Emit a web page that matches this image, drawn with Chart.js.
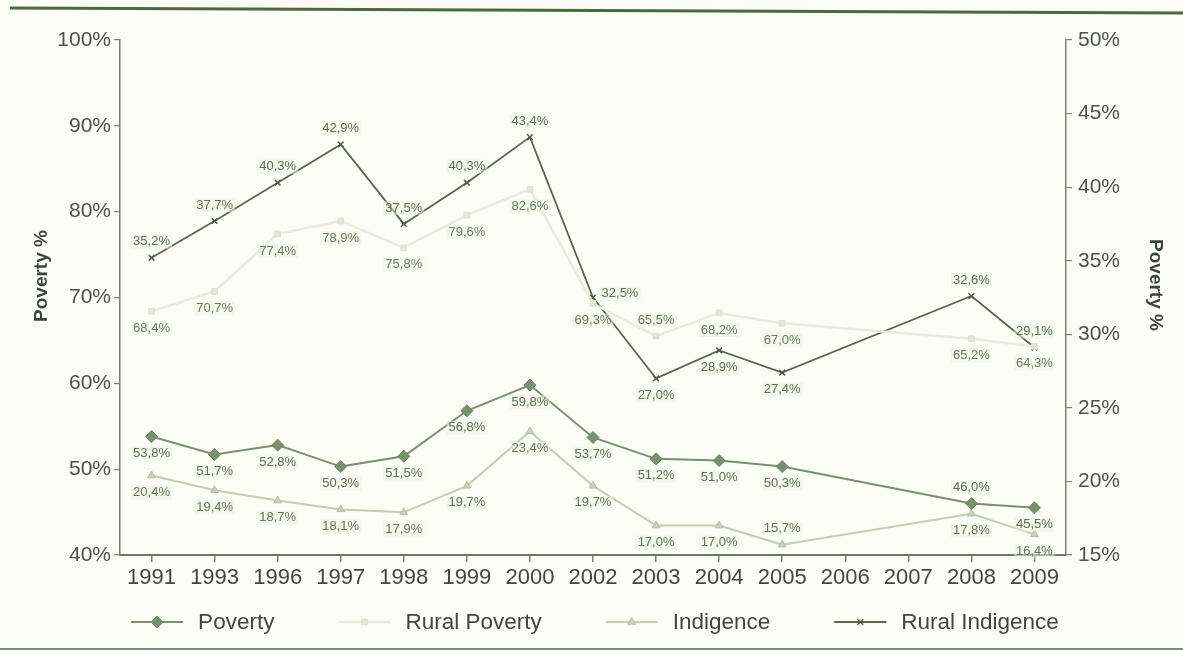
<!DOCTYPE html>
<html>
<head>
<meta charset="utf-8">
<script src="https://cdn.jsdelivr.net/npm/chart.js@4.4.0/dist/chart.umd.min.js"></script>
<style>
  html, body { margin: 0; padding: 0; background: #fcfdf5; }
  #wrap { width: 1183px; height: 651px; }
</style>
</head>
<body>
<div id="wrap"><canvas id="chart" width="1183" height="651"></canvas></div>
<script>
// --- data ---
const years = ['1991', '1993', '1996', '1997', '1998', '1999', '2000', '2002', '2003', '2004', '2005', '2006', '2007', '2008', '2009'];
const poverty         = [53.8, 51.7, 52.8, 50.3, 51.5, 56.8, 59.8, 53.7, 51.2, 51.0, 50.3, null, null, 46.0, 45.5];
const ruralPoverty    = [68.4, 70.7, 77.4, 78.9, 75.8, 79.6, 82.6, 69.3, 65.5, 68.2, 67.0, null, null, 65.2, 64.3];
const indigence       = [20.4, 19.4, 18.7, 18.1, 17.9, 19.7, 23.4, 19.7, 17.0, 17.0, 15.7, null, null, 17.8, 16.4];
const ruralIndigence  = [35.2, 37.7, 40.3, 42.9, 37.5, 40.3, 43.4, 32.5, 27.0, 28.9, 27.4, null, null, 32.6, 29.1];
const leftTicks  = [40, 50, 60, 70, 80, 90, 100];
const rightTicks = [15, 20, 25, 30, 35, 40, 45, 50];

const FONT = '"Liberation Sans", Arial, Helvetica, sans-serif';
const fmt = v => v.toFixed(1).replace('.', ',') + '%';

// value labels next to each point
const pointLabels = {
  id: 'pointLabels',
  afterDatasetsDraw(chart) {
    const ctx = chart.ctx;
    ctx.save();
    ctx.font = '13px ' + FONT;
    ctx.textAlign = 'center';
    ctx.textBaseline = 'middle';
    chart.data.datasets.forEach((ds, di) => {
      const meta = chart.getDatasetMeta(di);
      meta.data.forEach((pt, i) => {
        const v = ds.data[i];
        if (v == null) return;
        const pos = ds.labelPos[i];
        let x = pt.x, y = pt.y;
        if (pos === 'below') y += 17;
        else if (pos === 'above') y -= 16;
        else if (pos === 'right') { x += 27; y -= 4; }
        const txt = fmt(v);
        const w = ctx.measureText(txt).width;
        ctx.fillStyle = 'rgba(236,242,225,0.5)';
        ctx.fillRect(x - w / 2 - 2, y - 7, w + 4, 14);
        ctx.fillStyle = ds.labelColor;
        ctx.fillText(txt, x, y);
      });
    });
    ctx.restore();
  }
};

// page frame, axis titles and legend
const decor = {
  id: 'decor',
  beforeDraw(chart) {
    const ctx = chart.ctx;
    ctx.save();
    ctx.fillStyle = '#fcfdf5';
    ctx.fillRect(0, 0, chart.width, chart.height);
    ctx.strokeStyle = '#4b6a43';
    ctx.lineWidth = 3;
    ctx.beginPath(); ctx.moveTo(10, 8); ctx.lineTo(1183, 13); ctx.stroke();
    ctx.strokeStyle = '#7d8f75';
    ctx.lineWidth = 2;
    ctx.beginPath(); ctx.moveTo(0, 649); ctx.lineTo(1183, 649); ctx.stroke();
    ctx.restore();
  },
  afterDraw(chart) {
    const ctx = chart.ctx;
    ctx.save();
    // axis titles
    ctx.fillStyle = '#3c4638';
    ctx.font = 'bold 19px ' + FONT;
    ctx.textAlign = 'center';
    ctx.textBaseline = 'middle';
    ctx.save(); ctx.translate(42, 276); ctx.rotate(-Math.PI / 2); ctx.fillText('Poverty %', 0, 0); ctx.restore();
    ctx.save(); ctx.translate(1155, 285); ctx.rotate(Math.PI / 2); ctx.fillText('Poverty %', 0, 0); ctx.restore();

    // legend
    ctx.font = '22.5px ' + FONT;
    ctx.textAlign = 'left';
    const lineW = 52, gapText = 15, gapItem = 64, ly = 622;
    const items = chart.data.datasets.map(ds => ({ ds, w: ctx.measureText(ds.label).width }));
    const total = items.reduce((s, it) => s + lineW + gapText + it.w, 0) + gapItem * (items.length - 1);
    let x = 595 - total / 2;
    items.forEach(({ ds, w }) => {
      ctx.strokeStyle = ds.borderColor;
      ctx.lineWidth = ds.borderWidth;
      ctx.beginPath(); ctx.moveTo(x, ly); ctx.lineTo(x + lineW, ly); ctx.stroke();
      ctx.fillStyle = ds.pointBackgroundColor;
      ctx.strokeStyle = ds.pointBorderColor;
      ctx.lineWidth = ds.pointBorderWidth;
      Chart.helpers.drawPoint(ctx, { pointStyle: ds.pointStyle, radius: ds.pointRadius, rotation: 0, borderWidth: ds.pointBorderWidth }, x + lineW / 2, ly);
      ctx.fillStyle = '#3f483b';
      ctx.textBaseline = 'middle';
      ctx.fillText(ds.label, x + lineW + gapText, ly + 1);
      x += lineW + gapText + w + gapItem;
    });
    ctx.restore();
  }
};

const axisColor = '#76836f';

new Chart(document.getElementById('chart'), {
  type: 'line',
  data: {
    labels: years,
    datasets: [
      {
        label: 'Poverty', data: poverty, yAxisID: 'y',
        borderColor: '#7a8e71', borderWidth: 2,
        pointStyle: 'rectRot', pointRadius: 6, pointBackgroundColor: '#7b9072', pointBorderColor: '#6f8366', pointBorderWidth: 1,
        labelColor: '#5f6f58',
        labelPos: ['below', 'below', 'below', 'below', 'below', 'below', 'below', 'below', 'below', 'below', 'below', 'below', 'below', 'above', 'below']
      },
      {
        label: 'Rural Poverty', data: ruralPoverty, yAxisID: 'y',
        borderColor: '#e7ecdd', borderWidth: 2.5,
        pointStyle: 'rect', pointRadius: 4, pointBackgroundColor: '#e2e8d6', pointBorderColor: '#dae1cd', pointBorderWidth: 1,
        labelColor: '#6c7c62',
        labelPos: ['below', 'below', 'below', 'below', 'below', 'below', 'below', 'below', 'above', 'below', 'below', 'below', 'below', 'below', 'below']
      },
      {
        label: 'Indigence', data: indigence, yAxisID: 'y1',
        borderColor: '#c2ceb4', borderWidth: 2,
        pointStyle: 'triangle', pointRadius: 4.5, pointBackgroundColor: '#c6d2b9', pointBorderColor: '#b3c0a5', pointBorderWidth: 1,
        labelColor: '#66765d',
        labelPos: ['below', 'below', 'below', 'below', 'below', 'below', 'below', 'below', 'below', 'below', 'above', 'below', 'below', 'below', 'below']
      },
      {
        label: 'Rural Indigence', data: ruralIndigence, yAxisID: 'y1',
        borderColor: '#58674f', borderWidth: 1.8,
        pointStyle: 'crossRot', pointRadius: 4, pointBackgroundColor: '#58674f', pointBorderColor: '#4d5b46', pointBorderWidth: 1.5,
        labelColor: '#5f6f58',
        labelPos: ['above', 'above', 'above', 'above', 'above', 'above', 'above', 'right', 'below', 'below', 'below', 'below', 'below', 'above', 'above']
      }
    ]
  },
  options: {
    responsive: false,
    animation: false,
    spanGaps: true,
    layout: { padding: { top: 40, bottom: 55, left: 0, right: 0 } },
    plugins: { legend: { display: false }, tooltip: { enabled: false } },
    elements: { line: { tension: 0 } },
    scales: {
      x: {
        offset: true,
        grid: { offset: false, drawOnChartArea: false, drawTicks: true, tickLength: 7, color: axisColor, lineWidth: 1.5 },
        border: { display: true, color: '#6c7a65', width: 2 },
        ticks: { color: '#3f483b', font: { family: FONT, size: 22 }, padding: 3, maxRotation: 0, autoSkip: false },
        afterFit(s) { s.height = 41; }
      },
      y: {
        position: 'left', min: leftTicks[0], max: leftTicks[leftTicks.length - 1],
        afterBuildTicks(s) { s.ticks = leftTicks.map(v => ({ value: v })); },
        grid: { drawOnChartArea: false, drawTicks: true, tickLength: 6, color: axisColor, lineWidth: 1.2 },
        border: { display: true, color: axisColor, width: 1.5 },
        ticks: { color: '#4a5446', font: { family: FONT, size: 21 }, padding: 3, callback: v => v + '%' },
        afterFit(s) { s.width = 120; }
      },
      y1: {
        position: 'right', min: rightTicks[0], max: rightTicks[rightTicks.length - 1],
        afterBuildTicks(s) { s.ticks = rightTicks.map(v => ({ value: v })); },
        grid: { drawOnChartArea: false, drawTicks: true, tickLength: 6, color: axisColor, lineWidth: 1.2 },
        border: { display: true, color: axisColor, width: 1.5 },
        ticks: { color: '#4a5446', font: { family: FONT, size: 21 }, padding: 6, callback: v => v + '%' },
        afterFit(s) { s.width = 117; }
      }
    }
  },
  plugins: [decor, pointLabels]
});
</script>
</body>
</html>
